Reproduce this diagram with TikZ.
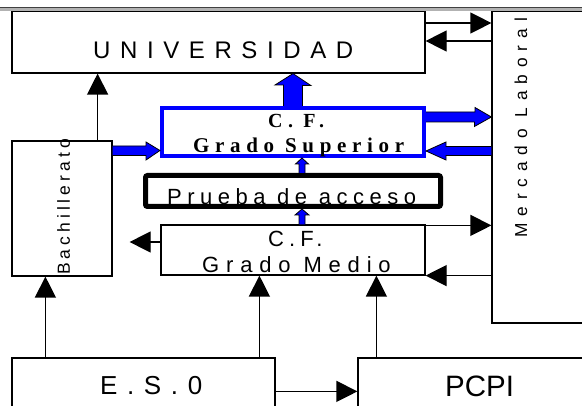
\documentclass[tikz,border=0pt]{standalone}
\usepackage{fontspec}
\setmainfont{Liberation Sans}
\newfontfamily\serifbold{Liberation Serif}
\usepackage{tikz}
\usetikzlibrary{arrows.meta}

\newcommand{\spacedfont}[2]{\fontsize{#1}{#1}\selectfont\addfontfeatures{LetterSpace=#2}}

\begin{document}
\begin{tikzpicture}[x=1pt, y=-1pt,
    box/.style={draw, line width=1.2pt, inner sep=0pt},
    arr/.style={line width=1.2pt, -{Triangle[length=21pt,width=21pt]}},
    blockarr/.style={fill=blue, draw=black, line width=0.8pt},
    txt/.style={inner sep=0pt, anchor=base west}]

        \useasboundingbox (0,0) rectangle (582,406);
        \clip (0,0) rectangle (582,406);

        % boxes
        \node[box, minimum width=413pt, minimum height=62pt]  (univ)   at (218.5,42)  {};
        \node[box, minimum width=148pt, minimum height=312pt] (merc)   at (566,167)   {};
        \node[box, minimum width=100pt, minimum height=135pt] (bach)   at (62,208.5)  {};
        \node[box, draw=blue, line width=4pt, minimum width=262pt, minimum height=48pt] (sup) at (293,132) {};
        \node[box, line width=5pt, rounded corners=2pt, minimum width=295pt, minimum height=31pt] (prueba) at (293,191) {};
        \node[box, minimum width=264pt, minimum height=50pt]  (medio)  at (293,250)   {};
        \node[box, minimum width=263pt, minimum height=62pt]  (eso)    at (143.5,389) {};
        \node[box, minimum width=282pt, minimum height=62pt]  (pcpi)   at (499,389)   {};

        % texts
        \node[txt] (univtext) at (93,59) {\spacedfont{24}{40}UNIVERSIDAD};
        \node[txt] (suptext1) at (268,128) {\serifbold\bfseries\spacedfont{20}{27}C. F.};
        \node[txt] (suptext2) at (193,153) {\serifbold\bfseries\spacedfont{21}{27}Grado Superior};
        \node[txt] (pruebatext) at (167,205) {\spacedfont{22}{25}Prueba de acceso};
        \node[txt] (mediotext1) at (268,247) {\spacedfont{22}{23}C.F.};
        \node[txt] (mediotext2) at (202,273) {\spacedfont{22}{31}Grado Medio};
        \node[txt, rotate=90] (bachtext) at (70,275) {\spacedfont{17.5}{23}Bachillerato};
        \node[txt, rotate=90] (merctext) at (527,238) {\spacedfont{17.3}{40}Mercado Laboral};
        \node[txt] (esotext) at (100,395) {\spacedfont{26}{37}E.S.0};
        \node[txt] (pcpitext) at (445,397) {\fontsize{29.5}{29.5}\selectfont PCPI};

        % black arrows
        \draw[arr] ([xshift=-15pt]bach.north east) -- ([xshift=-15pt]bach.north east |- univ.south);
        \draw[arr] ([yshift=19pt]univ.east) -- ([yshift=19pt]univ.east -| merc.west);
        \draw[arr] ([yshift=1pt]univ.east -| merc.west) -- ([yshift=1pt]univ.east);
        \draw[arr] ([yshift=8pt]medio.west) -- ([yshift=8pt,xshift=17pt]medio.west -| bach.east);
        \draw[arr] ([yshift=-1pt]medio.north east) -- ([yshift=-1pt]medio.north east -| merc.west);
        \draw[arr] (medio.south east -| merc.west) -- (medio.south east);
        \draw[arr] ([xshift=34pt]bach.south west |- eso.north) -- ([xshift=34pt]bach.south west);
        \draw[arr] ([xshift=99pt]medio.south west |- eso.north) -- ([xshift=99pt]medio.south west);
        \draw[arr] ([yshift=-34pt]eso.north east) -- ([yshift=-34pt]eso.north east -| pcpi.west);
        \draw[arr] ([xshift=19pt]pcpi.north west) -- ([xshift=19pt]pcpi.north west |- medio.south);

        % blue arrows
        \filldraw[blockarr] ([xshift=-9.5pt]sup.north) -- ++(0,-21) -- ++(-8.5,0) -- (sup.north |- univ.south)
            -- ++(18,12) -- ++(-8.5,0) -- ([xshift=9.5pt]sup.north);
        \filldraw[blockarr] ([yshift=20pt]sup.east) -- ++(49,0) -- ++(0,-4.5) -- ([yshift=15pt]sup.east -| merc.west)
            -- ++(-17,9.5) -- ++(0,-4.5) -- ([yshift=10pt]sup.east);
        \filldraw[blockarr] ([yshift=-14.5pt]sup.east -| merc.west) -- ++(-45.4,0) -- ++(0,-4.5) -- ([yshift=-19pt]sup.east)
            -- ++(20,9) -- ++(0,-4.5) -- ([yshift=-23.5pt]sup.east -| merc.west);
        \filldraw[blockarr] ([yshift=-14pt]sup.west -| bach.east) -- ++(33.4,0) -- ++(0,-4) -- ([yshift=-18.5pt]sup.west)
            -- ++(-14,9.5) -- ++(0,-4.5) -- ([yshift=-23.5pt]sup.west -| bach.east);
        \filldraw[blockarr] ([xshift=6pt]sup.south |- prueba.north) -- ++(0,-9) -- ++(-3.5,0) -- ([xshift=9pt]sup.south)
            -- ++(6.5,6) -- ++(-3.5,0) -- ([xshift=12pt]sup.south |- prueba.north);
        \filldraw[blockarr] ([xshift=6pt]medio.north) -- ++(0,-9.4) -- ++(-4,0) -- ([xshift=9pt]prueba.south)
            -- ++(7,6) -- ++(-4,0) -- ([xshift=12pt]medio.north);

        % top band
        \fill[black!30] (0,7.5) rectangle (582,11.5);
        \draw[black!75, line width=0.7pt] (0,7) -- (582,7);
\end{tikzpicture}
\end{document}
